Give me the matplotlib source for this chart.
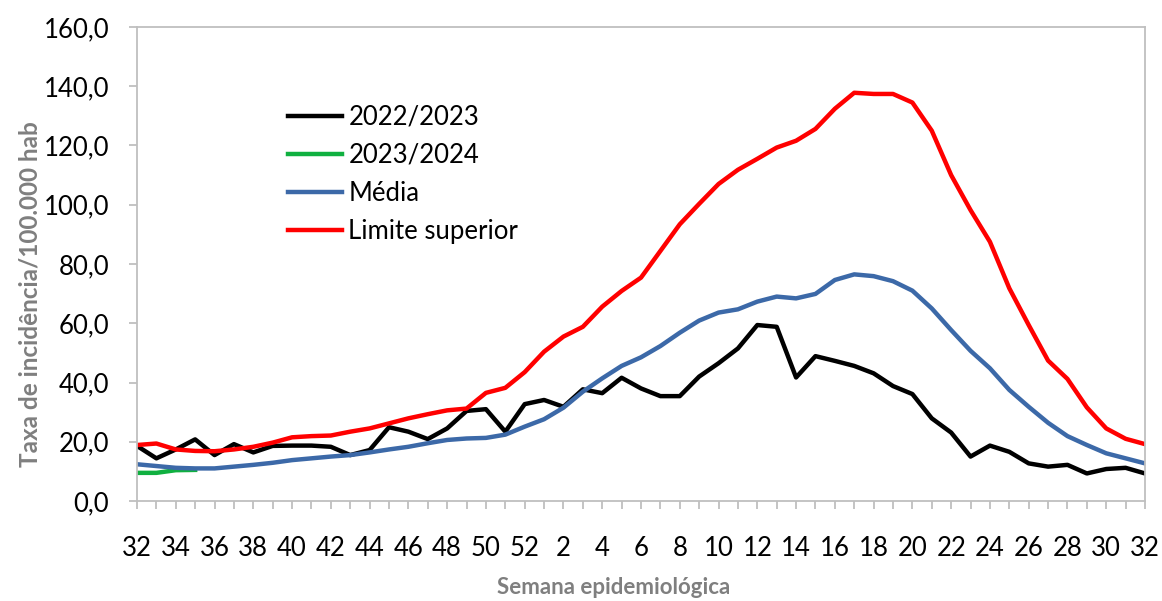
import matplotlib.pyplot as plt
import matplotlib.ticker as mticker

# Semanas epidemiológicas (32 a 52, depois 1 a 32)
semanas = list(range(32, 53)) + list(range(1, 33))

serie_2022 = [18.6, 14.4, 17.4, 20.8, 15.5, 19.2, 16.4, 18.6, 18.7, 18.7,
              18.3, 15.5, 17.2, 24.9, 23.4, 20.9, 24.5, 30.4, 31.0, 23.4,
              32.7, 34.1, 31.8, 37.7, 36.4, 41.6, 38.0, 35.4, 35.4, 42.0,
              46.5, 51.5, 59.4, 58.8, 41.7, 48.9, 47.3, 45.6, 43.1, 38.8,
              36.1, 27.9, 23.1, 15.0, 18.7, 16.6, 12.7, 11.6, 12.2, 9.3,
              10.8, 11.2, 9.3]
serie_2023 = [9.5, 9.5, 10.4, 10.5]
media = [12.4, 11.8, 11.2, 11.0, 11.0, 11.6, 12.2, 12.9, 13.8, 14.4,
         15.0, 15.5, 16.4, 17.4, 18.3, 19.5, 20.6, 21.1, 21.3, 22.4,
         25.1, 27.6, 31.5, 36.9, 41.4, 45.6, 48.5, 52.3, 56.8, 60.9,
         63.6, 64.7, 67.3, 69.0, 68.4, 69.9, 74.6, 76.5, 75.9, 74.2,
         71.0, 65.0, 57.7, 50.7, 44.8, 37.5, 31.8, 26.4, 21.9, 18.9,
         16.1, 14.4, 12.7]
limite = [18.9, 19.4, 17.4, 16.9, 16.8, 17.4, 18.3, 19.7, 21.5, 21.9,
          22.1, 23.4, 24.5, 26.2, 27.9, 29.3, 30.6, 31.2, 36.5, 38.2,
          43.5, 50.4, 55.5, 58.8, 65.6, 70.9, 75.4, 84.4, 93.4, 100.3,
          107.0, 111.8, 115.5, 119.3, 121.6, 125.6, 132.4, 137.8, 137.4, 137.4,
          134.5, 125.0, 110.0, 98.2, 87.5, 71.8, 59.4, 47.4, 41.2, 31.6,
          24.5, 21.0, 19.2]

x = list(range(len(semanas)))

plt.rcParams['font.family'] = ['Lato', 'DejaVu Sans']

fig = plt.figure(figsize=(11.62, 6.01), dpi=100)
ax = fig.add_axes([137 / 1162, 1 - 501 / 601, (1145 - 137) / 1162, (501 - 27) / 601])

lw = 3.2
ax.plot(x, serie_2022, color='black', lw=lw, label='2022/2023')
ax.plot(x[:len(serie_2023)], serie_2023, color='#10b040', lw=lw, label='2023/2024')
ax.plot(x, media, color='#3c69a8', lw=lw, label='Média')
ax.plot(x, limite, color='#ff0000', lw=lw, label='Limite superior')

ax.set_xlim(0, len(x) - 1)
ax.set_ylim(0, 160)
ax.set_yticks(range(0, 161, 20))
ax.yaxis.set_major_formatter(mticker.FuncFormatter(lambda v, p: f'{v:.1f}'.replace('.', ',')))
ax.set_xticks(x)
ax.set_xticklabels([str(s) if i % 2 == 0 else '' for i, s in enumerate(semanas)])

for sp in ax.spines.values():
    sp.set_color('#bfbfbf')
    sp.set_linewidth(1.3)
ax.tick_params(axis='both', colors='#bfbfbf', labelcolor='black', length=6, width=1.3,
               labelsize=18.5)
ax.tick_params(axis='x', pad=19)
ax.tick_params(axis='y', pad=14)

fig.text(30 / 1162, 1 - 294 / 601, 'Taxa de incidência/100.000 hab', rotation=90,
         ha='center', va='center', fontsize=17.5, fontweight='bold', color='#7f7f7f')
fig.text(614 / 1162, 1 - 587 / 601, 'Semana epidemiológica', ha='center', va='center',
         fontsize=16, fontweight='bold', color='#7f7f7f')

ax.legend(loc='upper left', bbox_to_anchor=((288 - 137) / 1008, 1 - (105 - 27) / 474),
          frameon=False, fontsize=18.5, handlelength=2.1, handletextpad=0.25,
          labelspacing=0.5, borderpad=0, borderaxespad=0)

fig.savefig('out.png', dpi=100)
